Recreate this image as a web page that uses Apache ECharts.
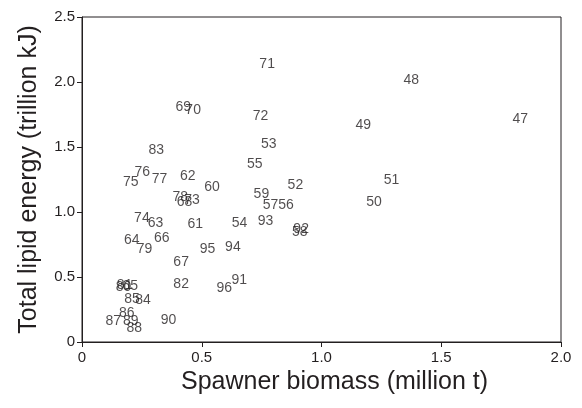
<!DOCTYPE html>
<html>
<head>
<meta charset="utf-8">
<script src="https://cdn.jsdelivr.net/npm/echarts@6/dist/echarts.min.js"></script>
<style>
  html, body { margin: 0; padding: 0; background: #fff; }
  #chart { width: 582px; height: 408px; }
</style>
</head>
<body>
<div id="chart"></div>
<script>
// 年份标签（19xx）
const years = [
  '47', '48', '49', '50', '51', '52', '53', '54', '55', '56',
  '57', '58', '59', '60', '61', '62', '63', '64', '65', '66',
  '67', '68', '69', '70', '71', '72', '73', '74', '75', '76',
  '77', '78', '79', '80', '81', '82', '83', '84', '85', '86',
  '87', '88', '89', '90', '91', '92', '93', '94', '95', '96'
]

// 产卵群体生物量 (million t)
const biomass = [
  1.83, 1.375, 1.174, 1.219, 1.292, 0.891, 0.78, 0.658, 0.721, 0.852,
  0.787, 0.909, 0.749, 0.543, 0.473, 0.442, 0.307, 0.208, 0.201, 0.333,
  0.414, 0.428, 0.423, 0.464, 0.773, 0.745, 0.459, 0.25, 0.204, 0.252,
  0.324, 0.41, 0.261, 0.173, 0.178, 0.414, 0.31, 0.255, 0.209, 0.187,
  0.131, 0.218, 0.204, 0.361, 0.657, 0.915, 0.766, 0.63, 0.524, 0.594
]

// 脂质总能量 (trillion kJ)
const lipidEnergy = [
  1.713, 2.015, 1.669, 1.079, 1.246, 1.208, 1.521, 0.913, 1.367, 1.049,
  1.054, 0.842, 1.138, 1.195, 0.908, 1.279, 0.913, 0.785, 0.433, 0.797,
  0.618, 1.075, 1.808, 1.785, 2.138, 1.741, 1.092, 0.951, 1.228, 1.31,
  1.254, 1.118, 0.715, 0.425, 0.435, 0.446, 1.472, 0.323, 0.331, 0.225,
  0.162, 0.11, 0.162, 0.169, 0.472, 0.869, 0.933, 0.728, 0.713, 0.413
]

const FONT = '"Liberation Sans", Arial, Helvetica, sans-serif'
const INK = '#231f20'

const chart = echarts.init(document.getElementById('chart'))

const tickFmt = (v) => (v === 0 ? '0' : v.toFixed(1))

const option = {
  backgroundColor: '#fff',
  animation: false,
  grid: {
    left: 82,
    right: 21,
    top: 17,
    bottom: 66,
    show: true,
    borderColor: INK,
    borderWidth: 1,
  },
  xAxis: {
    type: 'value',
    min: 0,
    max: 2,
    interval: 0.5,
    name: 'Spawner biomass (million t)',
    nameLocation: 'middle',
    nameGap: 28,
    nameTextStyle: { color: INK, fontSize: 25, fontFamily: FONT, padding: [0, 0, 0, 26] },
    axisLine: { show: true, lineStyle: { color: INK, width: 1 } },
    axisTick: { show: true, length: 5, lineStyle: { color: INK } },
    axisLabel: { color: INK, fontSize: 15, fontFamily: FONT, margin: 8, formatter: tickFmt },
    splitLine: { show: false },
  },
  yAxis: {
    type: 'value',
    min: 0,
    max: 2.5,
    interval: 0.5,
    name: 'Total lipid energy (trillion kJ)',
    nameLocation: 'middle',
    nameGap: 40,
    nameTextStyle: { color: INK, fontSize: 25, fontFamily: FONT },
    axisLine: { show: true, lineStyle: { color: INK, width: 1 } },
    axisTick: { show: true, length: 5, lineStyle: { color: INK } },
    axisLabel: { color: INK, fontSize: 15, fontFamily: FONT, margin: 7, formatter: tickFmt },
    splitLine: { show: false },
  },
  series: [
    {
      type: 'scatter',
      symbolSize: 0,
      itemStyle: { color: 'transparent' },
      data: years.map((y, i) => [biomass[i], lipidEnergy[i], y]),
      label: {
        show: true,
        position: 'inside',
        formatter: (p) => p.value[2],
        color: INK,
        fontSize: 14,
        fontFamily: FONT,
      },
      labelLayout: { hideOverlap: false },
    },
  ],
}

chart.setOption(option)
</script>
</body>
</html>
